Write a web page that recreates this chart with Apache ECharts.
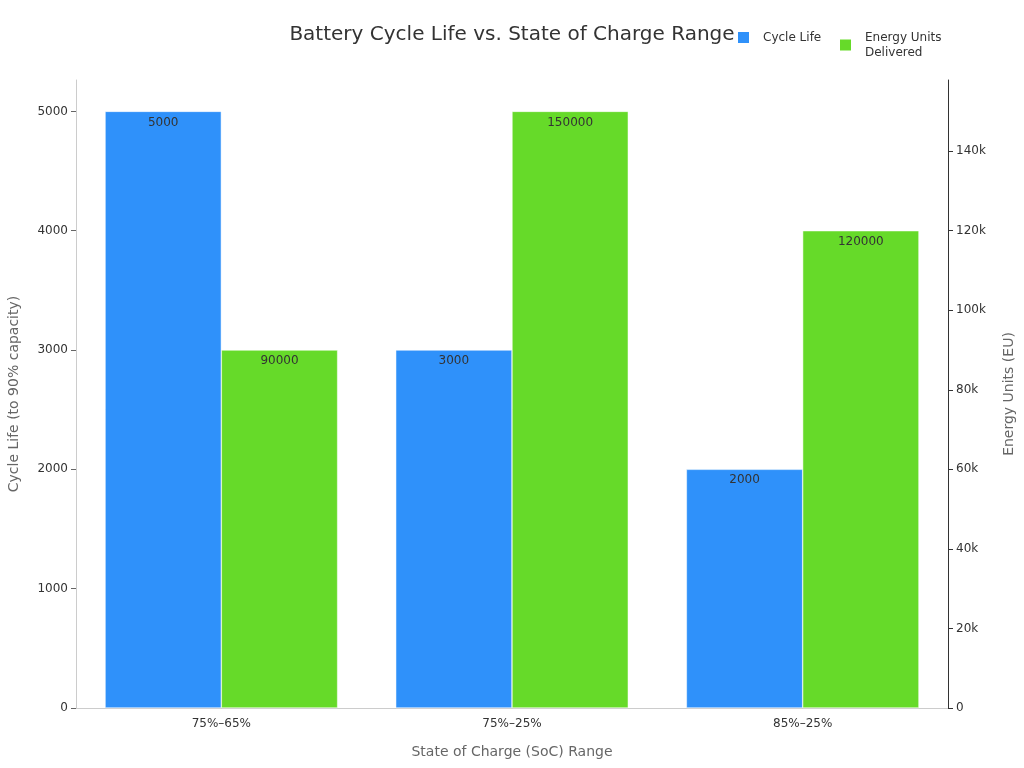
<!DOCTYPE html>
<html><head><meta charset="utf-8">
<script src="https://cdn.jsdelivr.net/npm/echarts@6/dist/echarts.min.js"></script>
<style>html,body{margin:0;padding:0;background:#fff}#c{width:1024px;height:768px}</style>
</head><body><div id="c"></div>
<script>
const categories = ['75%–65%', '75%–25%', '85%–25%'];
const cycleLife = [5000, 3000, 2000];
const energyUnits = [90000, 150000, 120000];
const seriesNames = ['Cycle Life', 'Energy Units\nDelivered'];

const chart = echarts.init(document.getElementById('c'));
const font = 'DejaVu Sans';
const legendText = { fontFamily: font, fontSize: 12, color: '#333', lineHeight: 15, padding: [0, 0, 0, 8] };
chart.setOption({
  backgroundColor: '#fff',
  textStyle: { fontFamily: font },
  title: {
    text: 'Battery Cycle Life vs. State of Charge Range',
    left: 'center', top: 20,
    textStyle: { fontFamily: font, fontSize: 20, fontWeight: 'normal', color: '#333' }
  },
  legend: [{
    left: 731, top: 25, itemWidth: 13, itemHeight: 13, icon: 'rect',
    textStyle: legendText, data: [seriesNames[0]]
  }, {
    left: 833, top: 25, itemWidth: 13, itemHeight: 13, icon: 'rect',
    textStyle: legendText, data: [seriesNames[1]]
  }],
  grid: { left: 76, right: 76, top: 80, bottom: 60, outerBoundsMode: 'none', containLabel: false },
  xAxis: {
    type: 'category', data: categories,
    axisLine: { lineStyle: { color: '#ccc' } },
    axisTick: { alignWithLabel: true, lineStyle: { color: '#999' } },
    axisLabel: { color: '#333', fontSize: 12, margin: 10 },
    name: 'State of Charge (SoC) Range', nameLocation: 'middle', nameGap: 37,
    nameTextStyle: { color: '#666', fontSize: 14 }
  },
  yAxis: [{
    type: 'value', min: 0, max: 5263, interval: 1000,
    axisLine: { show: true, lineStyle: { color: '#ccc' } },
    axisTick: { show: true, lineStyle: { color: '#666' } },
    axisLabel: { color: '#333', fontSize: 12, showMaxLabel: false, formatter: v => String(v) },
    splitLine: { show: false },
    name: 'Cycle Life (to 90% capacity)', nameLocation: 'middle', nameGap: 55,
    nameTextStyle: { color: '#666', fontSize: 14 }
  }, {
    type: 'value', min: 0, max: 157895, interval: 20000, position: 'right',
    axisLine: { show: true, lineStyle: { color: '#333' } },
    axisTick: { show: true, lineStyle: { color: '#333' } },
    axisLabel: { color: '#333', fontSize: 12, showMaxLabel: false,
      formatter: v => v === 0 ? '0' : (v / 1000) + 'k' },
    splitLine: { show: false },
    name: 'Energy Units (EU)', nameLocation: 'middle', nameGap: 54,
    nameTextStyle: { color: '#666', fontSize: 14 }
  }],
  series: [{
    name: seriesNames[0], type: 'bar', yAxisIndex: 0, data: cycleLife,
    barGap: '0%', barCategoryGap: '20%',
    itemStyle: { color: '#2f91fa', borderColor: '#fff', borderWidth: 0.5 },
    label: { show: true, position: 'insideTop', color: '#333', fontSize: 12 }
  }, {
    name: seriesNames[1], type: 'bar', yAxisIndex: 1, data: energyUnits,
    barGap: '0%', barCategoryGap: '20%',
    itemStyle: { color: '#66da29', borderColor: '#fff', borderWidth: 0.5 },
    label: { show: true, position: 'insideTop', color: '#333', fontSize: 12 }
  }]
});
</script></body></html>
